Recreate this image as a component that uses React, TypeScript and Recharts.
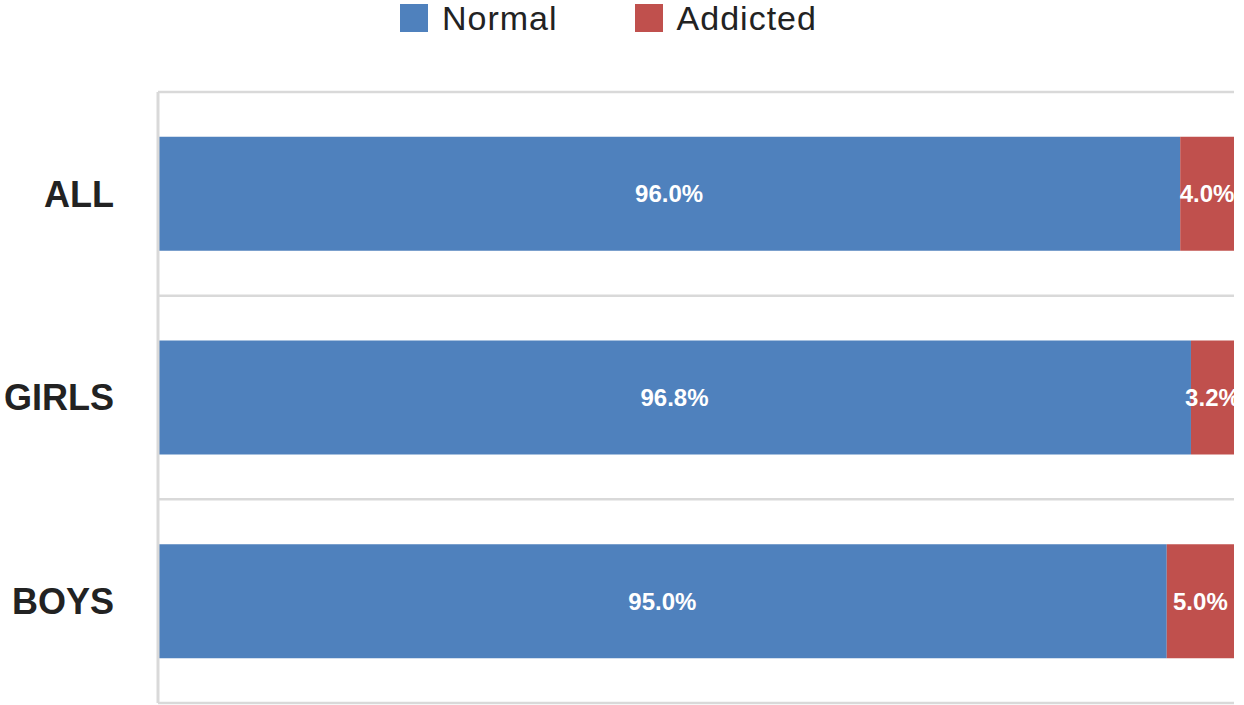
import React from 'react';
import { BarChart, Bar, XAxis, YAxis, Legend, LabelList, CartesianGrid } from 'recharts';

const CATEGORIES = ['ALL', 'GIRLS', 'BOYS'];
const NORMAL = [96.0, 96.8, 95.0];
const ADDICTED = [4.0, 3.2, 5.0];
const SERIES_NAMES = ['Normal', 'Addicted'];
const SERIES_COLORS = ['#4F81BD', '#C0504D'];
const X_DOMAIN: [number, number] = [20, 100];

const data = CATEGORIES.map((c, i) => ({ name: c, normal: NORMAL[i], addicted: ADDICTED[i] }));

const FONT = '"Liberation Sans", Arial, Helvetica, sans-serif';
const CHART_W = 1234;
const CHART_H = 705;
const LEGEND_H = 36;
const MARGIN = { top: 92 - LEGEND_H, right: 0, bottom: 2, left: 0 };
const Y_AXIS_W = 158;
const PLOT_LEFT = MARGIN.left + Y_AXIS_W;

// category band boundaries (including plot top and bottom edges)
const bandBoundaries = (props: any) => {
  const off = props.offset || {};
  const top = Number(off.top ?? 0);
  const h = Number(off.height ?? props.height ?? 0);
  const n = CATEGORIES.length;
  return Array.from({ length: n + 1 }, (_, i) => top + (i * h) / n);
};

const BarValueLabel = (props: any) => {
  const { x, y, width, height, value } = props;
  const left = Math.max(Number(x), PLOT_LEFT);
  const right = Number(x) + Number(width);
  const cx = (left + right) / 2;
  const cy = Number(y) + Number(height) / 2;
  return (
    <text
      x={cx}
      y={cy}
      fill="#ffffff"
      textAnchor="middle"
      dominantBaseline="central"
      fontSize={24}
      fontWeight="bold"
      fontFamily={FONT}
    >
      {Number(value).toFixed(1)}%
    </text>
  );
};

const LegendContent = (props: any) => {
  const payload = [...(props.payload || [])].sort(
    (a: any, b: any) => SERIES_NAMES.indexOf(a.value) - SERIES_NAMES.indexOf(b.value)
  );
  return (
    <div
      style={{
        display: 'flex',
        alignItems: 'center',
        height: LEGEND_H,
        paddingLeft: 400,
        fontFamily: FONT,
        fontSize: 34,
        letterSpacing: 1,
        color: '#222222',
      }}
    >
      {payload.map((entry: any, i: number) => (
        <div key={i} style={{ display: 'flex', alignItems: 'center', marginRight: 77 }}>
          <div style={{ width: 28, height: 28, background: entry.color, marginRight: 14 }} />
          <span style={{ lineHeight: '36px' }}>{entry.value}</span>
        </div>
      ))}
    </div>
  );
};

export default function App() {
  return (
    <div
      style={{
        position: 'absolute',
        left: 0,
        top: 0,
        width: CHART_W,
        height: CHART_H,
        overflow: 'hidden',
        background: '#ffffff',
      }}
    >
      <BarChart
        width={CHART_W}
        height={CHART_H}
        data={data}
        layout="vertical"
        margin={MARGIN}
        barCategoryGap="22%"
      >
        <CartesianGrid
          horizontal={true}
          vertical={false}
          stroke="#d9d9d9"
          strokeWidth={2.5}
          horizontalCoordinatesGenerator={bandBoundaries}
        />
        <XAxis type="number" domain={X_DOMAIN} allowDataOverflow hide />
        <YAxis
          type="category"
          dataKey="name"
          width={Y_AXIS_W}
          axisLine={{ stroke: '#d9d9d9', strokeWidth: 3 }}
          tickLine={false}
          tickSize={0}
          tickMargin={44}
          tick={{ fill: '#222222', fontSize: 36, fontWeight: 'bold', fontFamily: FONT }}
        />
        <Legend
          verticalAlign="top"
          align="left"
          content={<LegendContent />}
          wrapperStyle={{ top: 0, left: 0, height: LEGEND_H }}
        />
        <Bar dataKey="normal" name={SERIES_NAMES[0]} stackId="a" fill={SERIES_COLORS[0]} isAnimationActive={false}>
          <LabelList dataKey="normal" content={<BarValueLabel />} />
        </Bar>
        <Bar dataKey="addicted" name={SERIES_NAMES[1]} stackId="a" fill={SERIES_COLORS[1]} isAnimationActive={false}>
          <LabelList dataKey="addicted" content={<BarValueLabel />} />
        </Bar>
      </BarChart>
    </div>
  );
}
